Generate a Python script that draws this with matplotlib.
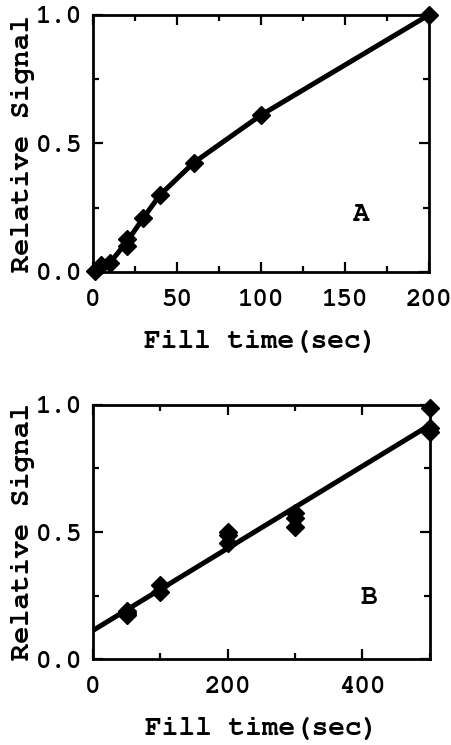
import numpy as np
import matplotlib
matplotlib.use('Agg')
import matplotlib.pyplot as plt
from matplotlib.ticker import MultipleLocator

# panel A: signal vs fill time, short fills
fill_a = [1, 5, 10, 20, 20, 30, 40, 60, 100, 200]
signal_a = [0.005, 0.025, 0.035, 0.10, 0.13, 0.21, 0.30, 0.425, 0.61, 1.0]

# panel B: replicate measurements at longer fills
fill_b = [50, 50, 50, 100, 100, 200, 200, 200, 300, 300, 300, 500, 500, 500]
signal_b = [0.19, 0.18, 0.175, 0.29, 0.265, 0.50, 0.49, 0.455,
            0.575, 0.555, 0.52, 0.99, 0.91, 0.895]

plt.rcParams['font.family'] = ['Courier New', 'Nimbus Mono PS', 'FreeMono',
                               'Liberation Mono', 'DejaVu Sans Mono']
plt.rcParams['font.size'] = 18
plt.rcParams['font.weight'] = 'bold'
plt.rcParams['axes.labelweight'] = 'bold'

fig = plt.figure(figsize=(4.51, 7.45), dpi=100)
ax1 = fig.add_axes([0.206, 0.635, 0.745, 0.345])
ax2 = fig.add_axes([0.206, 0.1154, 0.747, 0.341])


def style_axes(ax):
    for s in ax.spines.values():
        s.set_linewidth(2)
    ax.tick_params(which='both', direction='in', top=True, right=True, width=1.6)
    ax.tick_params(which='major', length=7, labelsize=18.5)
    ax.tick_params(axis='x', which='major', pad=12)
    ax.tick_params(axis='y', which='major', pad=8)
    ax.tick_params(which='minor', length=4.5)
    ax.set_ylim(0, 1.0)
    ax.yaxis.set_major_locator(MultipleLocator(0.5))
    ax.yaxis.set_minor_locator(MultipleLocator(0.25))
    ax.yaxis.set_major_formatter(lambda v, p: f'{v:.1f}')
    ax.set_xlabel('Fill time(sec)', fontsize=20, labelpad=14)
    ax.set_ylabel('Relative Signal', fontsize=20.5, labelpad=0)


# A: line through the mean at each fill time
xa = np.array(fill_a)
ya = np.array(signal_a)
ux = np.unique(xa)
uy = [ya[xa == u].mean() for u in ux]
ax1.plot(ux, uy, color='black', lw=3.6, solid_capstyle='round', zorder=2)
ax1.plot(fill_a, signal_a, 'D', color='black', ms=9.5, zorder=3, clip_on=False)
ax1.set_xlim(0, 200)
ax1.xaxis.set_major_locator(MultipleLocator(50))
ax1.xaxis.set_minor_locator(MultipleLocator(25))
style_axes(ax1)
ax1.text(160, 0.22, 'A', ha='center', va='center', fontsize=20)

# B: least-squares line over all replicates
slope, icpt = np.polyfit(fill_b, signal_b, 1)
xl = np.array([0, 500])
ax2.plot(xl, icpt + slope * xl, color='black', lw=3.6, zorder=2)
ax2.plot(fill_b, signal_b, 'D', color='black', ms=9.5, zorder=3, clip_on=False)
ax2.set_xlim(0, 500)
ax2.xaxis.set_major_locator(MultipleLocator(200))
ax2.xaxis.set_minor_locator(MultipleLocator(100))
style_axes(ax2)
ax2.text(410, 0.24, 'B', ha='center', va='center', fontsize=20)

fig.savefig('out.png', dpi=100)
